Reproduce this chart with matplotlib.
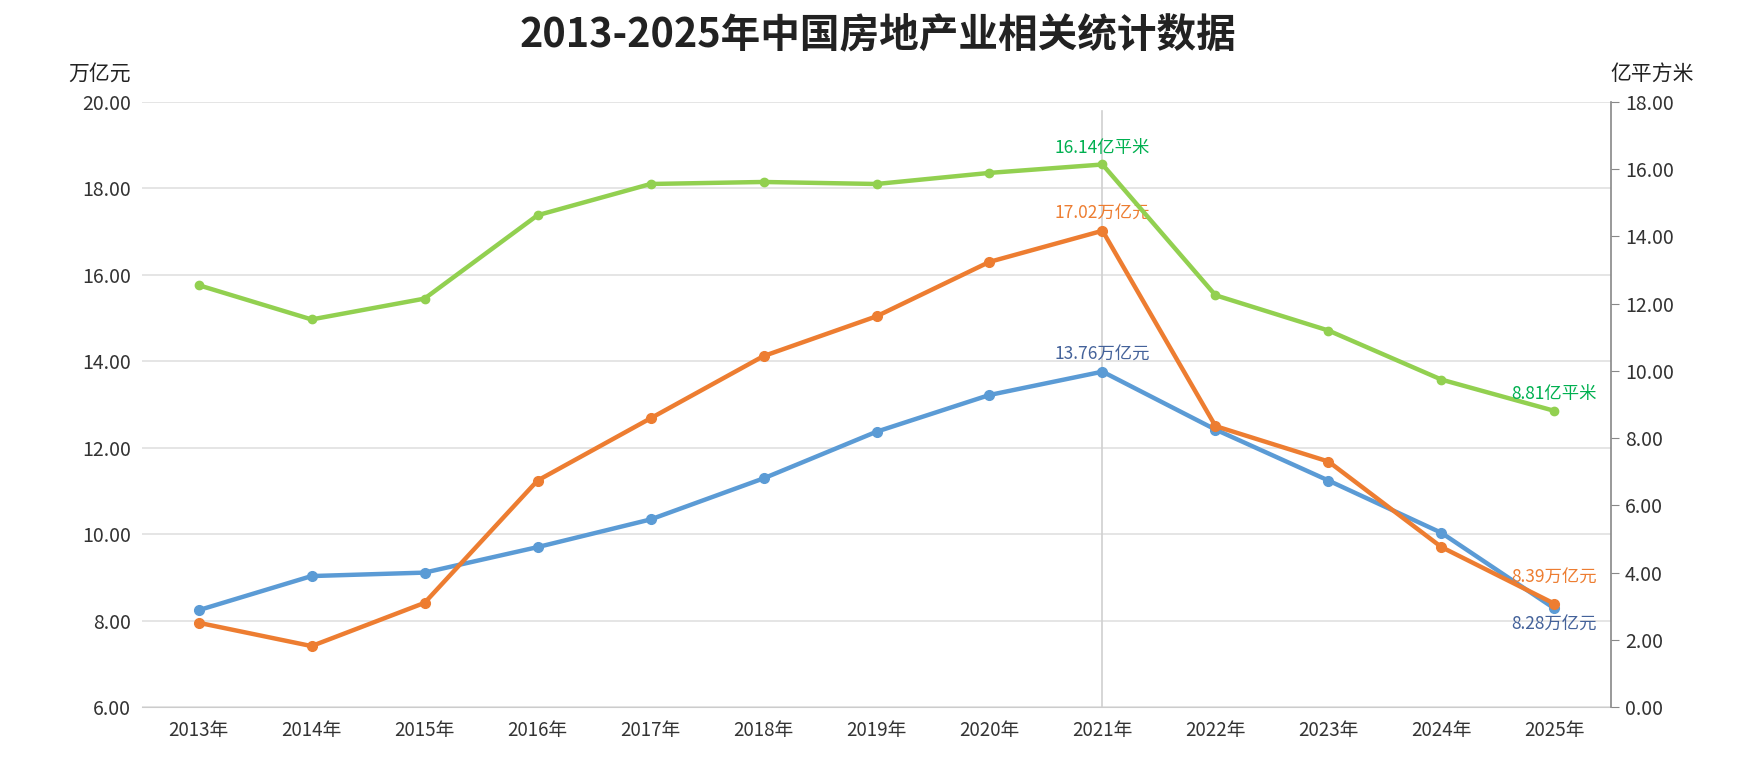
import matplotlib
matplotlib.use('Agg')
from matplotlib import pyplot as plt
import numpy as np

plt.rcParams['font.family'] = ['Noto Sans CJK SC', 'DejaVu Sans']

years = ['2013年', '2014年', '2015年', '2016年', '2017年', '2018年', '2019年',
         '2020年', '2021年', '2022年', '2023年', '2024年', '2025年']
# 左轴 万亿元
blue_vals = [8.24, 9.03, 9.11, 9.70, 10.34, 11.29, 12.37, 13.22, 13.76, 12.42, 11.24, 10.03, 8.28]
orange_vals = [7.95, 7.41, 8.41, 11.24, 12.68, 14.12, 15.04, 16.30, 17.02, 12.50, 11.68, 9.70, 8.39]
# 右轴 亿平方米
green_vals = [12.55, 11.53, 12.15, 14.63, 15.56, 15.62, 15.56, 15.89, 16.14, 12.25, 11.20, 9.74, 8.81]

left_ticks = [6, 8, 10, 12, 14, 16, 18, 20]
right_ticks = [0, 2, 4, 6, 8, 10, 12, 14, 16, 18]

c_blue = '#5b9bd5'
c_orange = '#ed7d31'
c_green = '#92d050'

fig = plt.figure(figsize=(17.41, 7.69), dpi=100)
ax = fig.add_axes([0.0816, 0.0806, 0.8437, 0.7868])
ax2 = ax.twinx()

x = np.arange(len(years))

ax.plot(x, blue_vals, color=c_blue, lw=3.2, marker='o', ms=7, zorder=3)
ax.plot(x, orange_vals, color=c_orange, lw=3.2, marker='o', ms=7, zorder=3)
ax2.plot(x, green_vals, color=c_green, lw=3.2, marker='o', ms=6, zorder=3)

ax.set_xlim(-0.5, len(years) - 0.5)
ax.set_ylim(6, 20)
ax2.set_ylim(0, 18)
ax.set_yticks(left_ticks)
ax.set_yticklabels([f'{v:.2f}' for v in left_ticks])
ax2.set_yticks(right_ticks)
ax2.set_yticklabels([f'{v:.2f}' for v in right_ticks])
ax.set_xticks(x)
ax.set_xticklabels(years)

ax.grid(axis='y', color='#e0e0e0', lw=1.2)
ax.set_axisbelow(True)
for s in ['top', 'right', 'left']:
    ax.spines[s].set_visible(False)
for s in ['top', 'left', 'bottom']:
    ax2.spines[s].set_visible(False)
ax.spines['bottom'].set_color('#cccccc')
ax2.spines['right'].set_color('#888888')
ax2.spines['right'].set_linewidth(1.2)

ax.tick_params(axis='y', length=0, pad=8, labelsize=14, labelcolor='#333333')
ax.tick_params(axis='x', length=0, pad=9, labelsize=13.5, labelcolor='#333333')
ax2.tick_params(axis='y', length=6, color='#888888', pad=4, labelsize=14, labelcolor='#333333')

# 2021年竖线
ax.axvline(8, ymin=0, ymax=0.985, color='#d0d0d0', lw=1.2, zorder=1)

# 数据标签
lab = dict(ha='center', va='center', fontsize=12.5, textcoords='offset points')
ax.annotate(f'{blue_vals[8]:.2f}万亿元', (8, blue_vals[8]), xytext=(0, 12), color='#44629a', **lab)
ax.annotate(f'{blue_vals[12]:.2f}万亿元', (12, blue_vals[12]), xytext=(0, -12), color='#44629a', **lab)
ax.annotate(f'{orange_vals[8]:.2f}万亿元', (8, orange_vals[8]), xytext=(0, 12), color=c_orange, **lab)
ax.annotate(f'{orange_vals[12]:.2f}万亿元', (12, orange_vals[12]), xytext=(0, 19), color=c_orange, **lab)
ax2.annotate(f'{green_vals[8]:.2f}亿平米', (8, green_vals[8]), xytext=(0, 12), color='#00b050', **lab)
ax2.annotate(f'{green_vals[12]:.2f}亿平米', (12, green_vals[12]), xytext=(0, 12), color='#00b050', **lab)

fig.text(0.5045, 0.953, '2013-2025年中国房地产业相关统计数据', ha='center', va='center',
         fontsize=28.5, fontweight='bold', color='#222222')
fig.text(0.0574, 0.904, '万亿元', ha='center', va='center', fontsize=15, color='#222222')
fig.text(0.949, 0.904, '亿平方米', ha='center', va='center', fontsize=15, color='#222222')

fig.savefig('out.png', dpi=100)
